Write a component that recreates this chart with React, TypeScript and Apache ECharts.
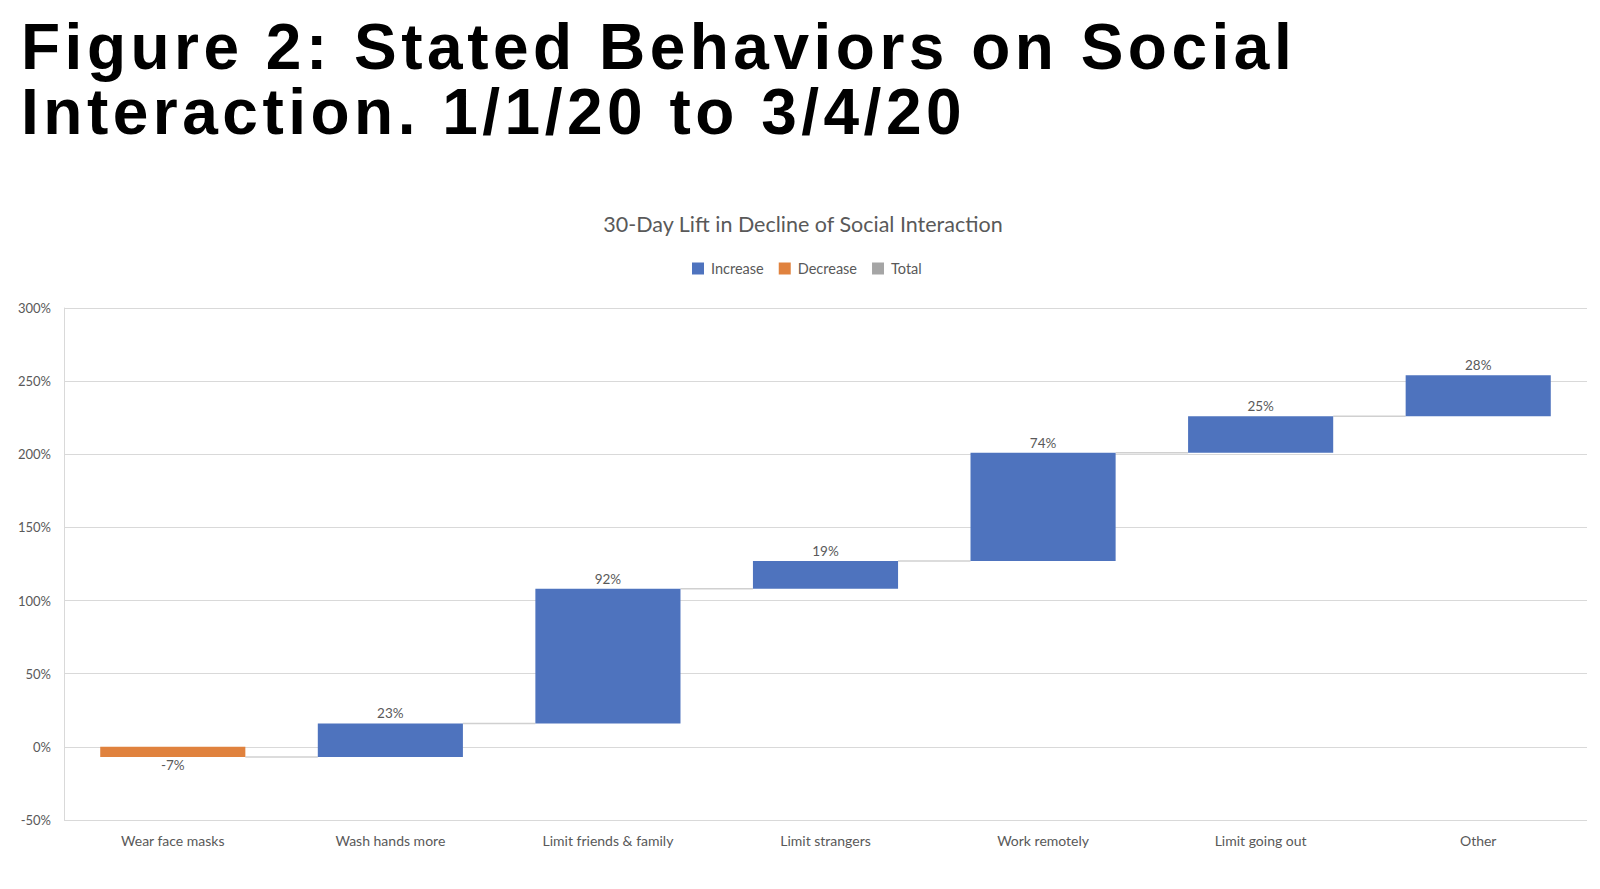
import React, { useEffect, useRef } from "react";
import * as echarts from "echarts";

const titleLines = ["Figure 2: Stated Behaviors on Social", "Interaction. 1/1/20 to 3/4/20"];
const chartTitle = "30-Day Lift in Decline of Social Interaction";
const categories = [
  "Wear face masks",
  "Wash hands more",
  "Limit friends & family",
  "Limit strangers",
  "Work remotely",
  "Limit going out",
  "Other",
];
const changes = [-7, 23, 92, 19, 74, 25, 28];
const yTicks = { min: -50, max: 300, interval: 50 };
const legendNames = ["Increase", "Decrease", "Total"];
const colors = { Increase: "#4E73BE", Decrease: "#E0823E", Total: "#A5A5A5" };

const FONT = "Lato";

export default function App() {
  const ref = useRef<HTMLDivElement>(null);

  useEffect(() => {
    if (!ref.current) return;
    const chart = echarts.init(ref.current, undefined, { renderer: "svg" });

    // build waterfall rows [index, start, end, change]
    const rows: number[][] = [];
    let acc = 0;
    changes.forEach((c, i) => {
      rows.push([i, acc, acc + c, c]);
      acc += c;
    });
    const incRows = rows.filter((r) => r[3] >= 0);
    const decRows = rows.filter((r) => r[3] < 0);
    const connRows = rows.slice(0, rows.length - 1).map((r) => [r[0], r[2]]);

    const barRender = (color: string) => (params: any, api: any) => {
      const i = api.value(0);
      const s = api.value(1);
      const e = api.value(2);
      const ch = api.value(3);
      const band = api.size([1, 0])[0];
      const bw = band * 0.667;
      const p1 = api.coord([i, s]);
      const p2 = api.coord([i, e]);
      const top = Math.min(p1[1], p2[1]);
      const h = Math.abs(p1[1] - p2[1]);
      const up = ch >= 0;
      return {
        type: "group",
        children: [
          {
            type: "rect",
            shape: { x: p1[0] - bw / 2, y: top, width: bw, height: h },
            style: { fill: color },
          },
          {
            type: "text",
            x: p1[0],
            y: up ? top - 3 : top + h + 1,
            style: {
              text: ch + "%",
              fill: "#595959",
              fontSize: 13.5,
              fontFamily: FONT,
              align: "center",
              verticalAlign: up ? "bottom" : "top",
            },
          },
        ],
      };
    };

    const option: any = {
      animation: false,
      backgroundColor: "#ffffff",
      title: {
        text: titleLines.join("\n"),
        left: 21,
        top: 14,
        padding: 0,
        textStyle: {
          fontFamily: "Liberation Sans",
          fontWeight: "bold",
          fontSize: 64,
          lineHeight: 65,
          color: "#000000",
        },
      },
      graphic: [
        {
          type: "text",
          x: 803,
          y: 224,
          style: {
            text: chartTitle,
            fill: "#595959",
            fontSize: 21.5,
            fontFamily: FONT,
            align: "center",
            verticalAlign: "middle",
          },
        },
      ],
      legend: {
        data: legendNames,
        top: 256,
        left: 687,
        icon: "rect",
        itemWidth: 12,
        itemHeight: 12,
        itemGap: 15,
        textStyle: { fontFamily: FONT, fontSize: 14.5, color: "#595959", padding: [0, 0, 0, 2] },
      },
      grid: { left: 64, right: 13, top: 308, bottom: 69, containLabel: false },
      xAxis: {
        type: "category",
        data: categories,
        boundaryGap: true,
        axisLine: { show: false },
        axisTick: { show: false },
        axisLabel: { fontFamily: FONT, fontSize: 14, color: "#595959", margin: 13 },
      },
      yAxis: {
        type: "value",
        min: yTicks.min,
        max: yTicks.max,
        interval: yTicks.interval,
        axisLine: { show: true, lineStyle: { color: "#d9d9d9", width: 1 } },
        axisTick: { show: false },
        splitLine: { show: true, lineStyle: { color: "#d9d9d9", width: 1 } },
        axisLabel: { formatter: "{value}%", fontFamily: FONT, fontSize: 13, color: "#595959", margin: 13 },
      },
      series: [
        {
          name: "Connector",
          type: "custom",
          data: connRows,
          encode: { x: 0, y: 1 },
          silent: true,
          z: 1,
          renderItem: (params: any, api: any) => {
            const i = api.value(0);
            const v = api.value(1);
            const band = api.size([1, 0])[0];
            const bw = band * 0.667;
            const a = api.coord([i, v]);
            const b = api.coord([i + 1, v]);
            return {
              type: "line",
              shape: { x1: a[0] + bw / 2, y1: a[1], x2: b[0] - bw / 2, y2: b[1] },
              style: { stroke: "#d0d0d0", lineWidth: 1.5 },
            };
          },
        },
        {
          name: "Increase",
          type: "custom",
          data: incRows,
          encode: { x: 0, y: [1, 2] },
          itemStyle: { color: colors.Increase },
          z: 2,
          renderItem: barRender(colors.Increase),
        },
        {
          name: "Decrease",
          type: "custom",
          data: decRows,
          encode: { x: 0, y: [1, 2] },
          itemStyle: { color: colors.Decrease },
          z: 2,
          renderItem: barRender(colors.Decrease),
        },
        {
          name: "Total",
          type: "bar",
          data: [],
          itemStyle: { color: colors.Total },
        },
      ],
    };

    const applySpacing = () => {
      if (!ref.current) return;
      const texts = ref.current.querySelectorAll("text");
      texts.forEach((t) => {
        const c = t.textContent || "";
        if (titleLines.indexOf(c) >= 0) {
          t.setAttribute("letter-spacing", "4.5px");
        }
      });
    };
    chart.on("finished", applySpacing);
    chart.setOption(option);
    applySpacing();

    return () => {
      chart.dispose();
    };
  }, []);

  return (
    <div
      ref={ref}
      style={{ position: "fixed", left: 0, top: 0, width: 1600, height: 889, background: "#fff" }}
    />
  );
}
